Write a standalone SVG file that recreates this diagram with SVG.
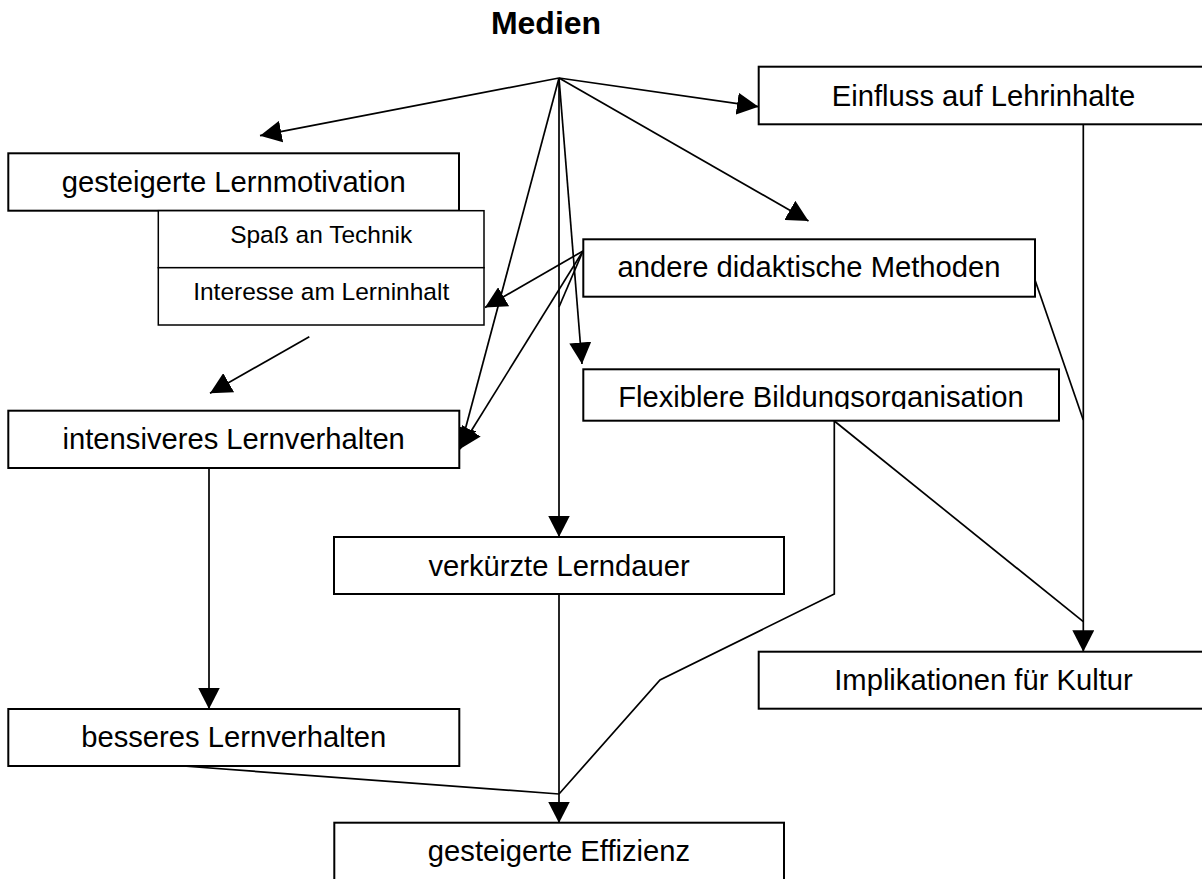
<svg xmlns="http://www.w3.org/2000/svg" width="1202" height="879" viewBox="0 0 1202 879">
  <style>
    .box { fill: #ffffff; stroke: #000000; stroke-width: 2; }
    .sub { fill: #ffffff; stroke: #000000; stroke-width: 1.5; }
    .lbl { font-family: "Liberation Sans", Arial, sans-serif; font-size: 29.2px; fill: #000000; text-anchor: middle; }
    .small { font-family: "Liberation Sans", Arial, sans-serif; font-size: 24.5px; fill: #000000; text-anchor: middle; }
    .title { font-family: "Liberation Sans", Arial, sans-serif; font-size: 32px; font-weight: bold; fill: #000000; text-anchor: middle; }
    .conn { fill: none; stroke: #000000; stroke-width: 1.7; }
    .arrow { marker-end: url(#head); }
  </style>
  <defs>
    <marker id="head" markerUnits="userSpaceOnUse" markerWidth="22" markerHeight="22" refX="21.5" refY="11" orient="auto">
      <path d="M0,0 L21.5,11 L0,22 z" fill="#000000"/>
    </marker>
    <clipPath id="flexClip">
      <rect x="583" y="369" width="476" height="40"/>
    </clipPath>
  </defs>

  <rect width="1202" height="879" fill="#ffffff"/>

  <text class="title" x="546" y="33.5">Medien</text>

  <!-- connectors -->
  <g id="connectors">
    <!-- fan out from the hub under the title -->
    <line class="conn arrow" x1="559" y1="78" x2="260" y2="135.7"/>
    <line class="conn arrow" x1="559" y1="78" x2="758.5" y2="106.7"/>
    <line class="conn arrow" x1="559" y1="78" x2="808.5" y2="221"/>
    <line class="conn arrow" x1="559" y1="78" x2="582" y2="364"/>
    <line class="conn arrow" x1="559" y1="78" x2="460" y2="449"/>
    <line class="conn arrow" x1="559" y1="78" x2="559" y2="537"/>

    <!-- from "andere didaktische Methoden" -->
    <line class="conn arrow" x1="583" y1="251" x2="485" y2="307.5"/>
    <line class="conn arrow" x1="583" y1="251" x2="460" y2="449"/>
    <line class="conn" x1="583" y1="251" x2="559" y2="307"/>
    <line class="conn" x1="1035" y1="280" x2="1083.3" y2="420"/>

    <!-- motivation to learning behaviour -->
    <line class="conn arrow" x1="309.3" y1="336.7" x2="210" y2="393.3"/>
    <line class="conn arrow" x1="209" y1="468" x2="209" y2="709"/>

    <!-- towards efficiency -->
    <line class="conn" x1="183" y1="766" x2="559" y2="794"/>
    <line class="conn arrow" x1="559" y1="594" x2="559" y2="823"/>
    <polyline class="conn" points="834.3,421 834.3,594 660,680 559,794"/>

    <!-- towards culture -->
    <line class="conn" x1="834.3" y1="421" x2="1083.3" y2="621.7"/>
    <line class="conn arrow" x1="1083.3" y1="124" x2="1083.3" y2="651.7"/>
  </g>

  <!-- nodes -->
  <g id="einfluss">
    <rect class="box" x="758.7" y="66.7" width="460" height="57.6"/>
    <text class="lbl" x="983.5" y="105.5">Einfluss auf Lehrinhalte</text>
  </g>

  <g id="lernmotivation">
    <rect class="box" x="8.3" y="153.3" width="450.7" height="57.4"/>
    <text class="lbl" x="233.7" y="191.7">gesteigerte Lernmotivation</text>
  </g>

  <g id="motivation-details">
    <rect class="sub" x="158.3" y="210.7" width="325.7" height="57"/>
    <text class="small" x="321.2" y="242.9">Spaß an Technik</text>
    <rect class="sub" x="158.3" y="267.7" width="325.7" height="57.3"/>
    <text class="small" x="321.2" y="300.2">Interesse am Lerninhalt</text>
  </g>

  <g id="didaktik">
    <rect class="box" x="583.3" y="239.3" width="451.7" height="57.4"/>
    <text class="lbl" x="809" y="277.1">andere didaktische Methoden</text>
  </g>

  <g id="bildungsorganisation">
    <rect class="box" x="583.3" y="369.3" width="475.7" height="51.4"/>
    <text class="lbl" x="821" y="407" clip-path="url(#flexClip)">Flexiblere Bildungsorganisation</text>
  </g>

  <g id="intensiveres">
    <rect class="box" x="8.3" y="410.7" width="451" height="57.3"/>
    <text class="lbl" x="233.7" y="449.1">intensiveres Lernverhalten</text>
  </g>

  <g id="lerndauer">
    <rect class="box" x="334" y="537" width="450" height="57"/>
    <text class="lbl" x="559" y="576.4">verkürzte Lerndauer</text>
  </g>

  <g id="kultur">
    <rect class="box" x="758.7" y="651.7" width="460" height="57"/>
    <text class="lbl" x="983.5" y="690.4">Implikationen für Kultur</text>
  </g>

  <g id="besseres">
    <rect class="box" x="8.3" y="709" width="451" height="57"/>
    <text class="lbl" x="233.7" y="747.4">besseres Lernverhalten</text>
  </g>

  <g id="effizienz">
    <rect class="box" x="334.3" y="822.7" width="449.7" height="70"/>
    <text class="lbl" x="559" y="861.4">gesteigerte Effizienz</text>
  </g>
</svg>
